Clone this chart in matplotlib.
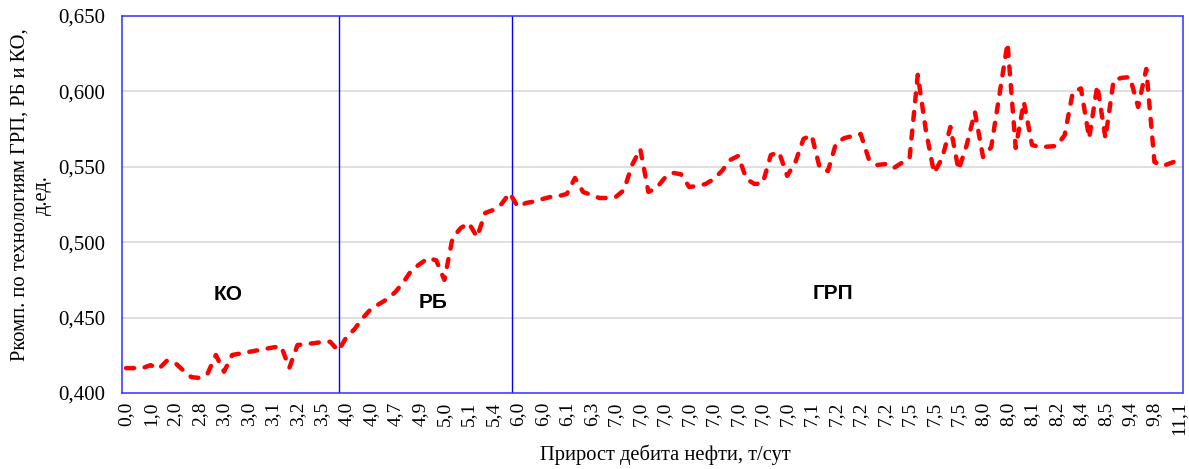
import matplotlib
matplotlib.use("Agg")
import matplotlib.pyplot as plt
import numpy as np

# ---- data ----
tick_labels = ["0,0", "1,0", "2,0", "2,8", "3,0", "3,0", "3,1", "3,2", "3,5", "4,0", "4,0",
               "4,7", "4,9", "5,0", "5,1", "5,4", "6,0", "6,0", "6,1", "6,3", "7,0", "7,0",
               "7,0", "7,0", "7,0", "7,0", "7,0", "7,0", "7,1", "7,2", "7,2", "7,2", "7,5",
               "7,5", "7,5", "8,0", "8,0", "8,1", "8,2", "8,4", "8,5", "9,4", "9,8", "11,1"]
label_step = 3

values = [
    0.4165, 0.4165, 0.4165, 0.4185, 0.4160, 0.4214, 0.4200, 0.4150, 0.4105, 0.4100,
    0.4130, 0.4252, 0.4141, 0.4252, 0.4262, 0.4272, 0.4282, 0.4292, 0.4302, 0.4310,
    0.4166, 0.4318, 0.4325, 0.4330, 0.4338, 0.4340, 0.4280,
    0.4370, 0.4424, 0.4497, 0.4557, 0.4590, 0.4623, 0.4670, 0.4736, 0.4816, 0.4855,
    0.4895, 0.4880, 0.4750,
    0.5028, 0.5094, 0.5127, 0.5034, 0.5194, 0.5214, 0.5253, 0.5326,
    0.5235, 0.5260, 0.5270, 0.5286, 0.5300, 0.5306, 0.5320, 0.5426, 0.5333, 0.5313,
    0.5293, 0.5293, 0.5300, 0.5346, 0.5512, 0.5618, 0.5333, 0.5360, 0.5426, 0.5460,
    0.5450, 0.5366,
    0.5373, 0.5386, 0.5419, 0.5472, 0.5545, 0.5572, 0.5420, 0.5386, 0.5390, 0.5578,
    0.5598, 0.5440, 0.5530, 0.5685, 0.5710, 0.5490, 0.5472, 0.5658, 0.5690, 0.5704,
    0.5718, 0.5552, 0.5512, 0.5518,
    0.5490, 0.5525, 0.5558, 0.6110, 0.5740, 0.5459, 0.5558, 0.5764, 0.5479, 0.5645,
    0.5864, 0.5565, 0.5630, 0.5976, 0.6320, 0.5625, 0.5930, 0.5645,
    0.5630, 0.5634, 0.5638, 0.5710, 0.5996, 0.6020, 0.5690, 0.6040, 0.5690, 0.6075,
    0.6090, 0.6095, 0.5897, 0.6149, 0.5532, 0.5505, 0.5525, 0.5545,
]

zones = ["КО", "РБ", "ГРП"]
zone_bounds = [26.1, 47.3]          # category positions of the separating lines
zone_text_pos = [(12.5, 0.465), (37.6, 0.4603), (86.6, 0.4663)]

y_ticks = [0.40, 0.45, 0.50, 0.55, 0.60, 0.65]

# ---- figure ----
fig = plt.figure(figsize=(11.89, 4.69), dpi=100)
ax = fig.add_axes([122 / 1189, 76 / 469, (1183 - 122) / 1189, (393 - 16) / 469])

serif = "Liberation Serif"
x = np.arange(len(values))
ax.plot(x, values, color="#ff0000", linewidth=3.2, linestyle=(0, (1.8, 2.4)),
        dash_capstyle="round", solid_capstyle="round", zorder=3)

ax.set_xlim(-0.5, len(values) - 0.5)
ax.set_ylim(0.40, 0.65)
ax.set_yticks(y_ticks)
ax.set_yticklabels([f"{v:.3f}".replace(".", ",") for v in y_ticks],
                   fontfamily=serif, fontsize=15)
ax.set_xticks(np.arange(0, len(values), label_step)[:len(tick_labels)])
ax.set_xticklabels(tick_labels, rotation=90, fontfamily=serif, fontsize=14)
ax.tick_params(axis="y", length=0, pad=12)
ax.tick_params(axis="x", length=0, pad=6)

for yv in y_ticks[1:-1]:
    ax.axhline(yv, color="#d9d9d9", linewidth=1.2, zorder=1)

for b in zone_bounds:
    ax.axvline(b, color="#0000ff", linewidth=1.0, zorder=2)

for sp in ax.spines.values():
    sp.set_color("#3030ff")
    sp.set_linestyle((0, (1.2, 1.0)))
    sp.set_linewidth(1.1)

for name, (tx, ty) in zip(zones, zone_text_pos):
    ax.text(tx, ty, name, ha="center", va="center", fontsize=15,
            fontweight="bold", fontfamily="Liberation Sans", color="black")

fig.text(31 / 1189, 0.585, "Ркомп. по технологиям ГРП, РБ и КО,\nд.ед.",
         rotation=90, ha="center", va="center", multialignment="center",
         fontfamily=serif, fontsize=14.8, linespacing=1.25)
fig.text(665 / 1189, 14 / 469, "Прирост дебита нефти, т/сут", ha="center", va="center",
         fontfamily=serif, fontsize=14.8)

fig.savefig("out.png", dpi=100)
